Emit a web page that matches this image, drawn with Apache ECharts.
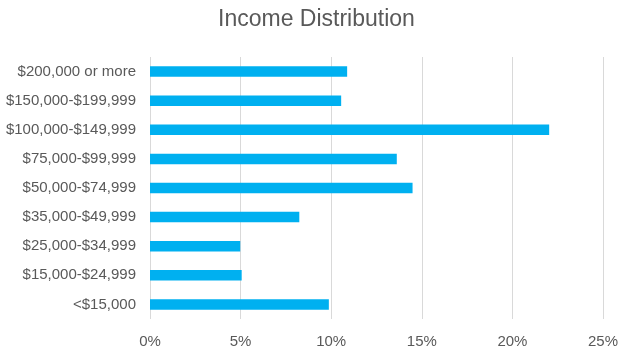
<!DOCTYPE html>
<html><head><meta charset="utf-8">
<script src="https://cdn.jsdelivr.net/npm/echarts@6/dist/echarts.min.js"></script>
<style>html,body{margin:0;padding:0;background:#fff}#c{width:623px;height:350px}</style>
</head><body><div id="c"></div>
<script>
const categories = ["<$15,000","$15,000-$24,999","$25,000-$34,999","$35,000-$49,999","$50,000-$74,999","$75,000-$99,999","$100,000-$149,999","$150,000-$199,999","$200,000 or more"];
const shares = [9.87, 5.06, 4.98, 8.24, 14.49, 13.62, 22.03, 10.55, 10.88];
const xTicks = [0, 5, 10, 15, 20, 25];

const chart = echarts.init(document.getElementById('c'), null, {renderer:'canvas'});
chart.setOption({
  animation:false,
  title:{text:'Income Distribution', left:218, top:8, padding:0,
    textStyle:{fontFamily:'Liberation Sans', fontSize:23, fontWeight:'normal', color:'#595959'}},
  grid:{left:150, right:20, top:57, bottom:31},
  xAxis:{type:'value', min:xTicks[0], max:xTicks[xTicks.length-1], interval:5,
    axisLine:{show:false}, axisTick:{show:false},
    splitLine:{lineStyle:{color:'#d9d9d9', width:1}},
    axisLabel:{formatter:v=>v+'%', color:'#595959', fontFamily:'Liberation Sans', fontSize:15, margin:15}},
  yAxis:{type:'category', data:categories,
    axisLine:{show:false}, axisTick:{show:false},
    axisLabel:{color:'#595959', fontFamily:'Liberation Sans', fontSize:15, margin:14}},
  series:[{type:'bar', data:shares, barWidth:'36%', itemStyle:{color:'#00B0F0'}}]
});
</script></body></html>
